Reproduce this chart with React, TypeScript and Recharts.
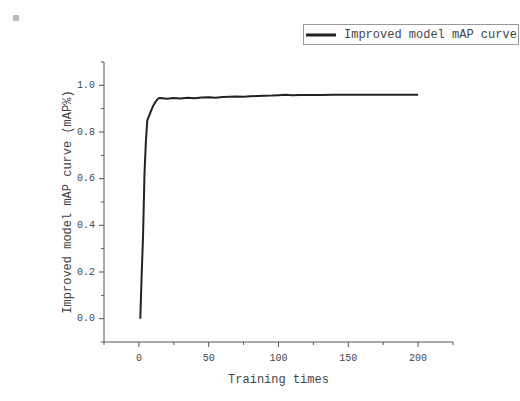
import { LineChart, Line, XAxis, YAxis, Label } from "recharts";

const trainingTimes = [
  1, 2, 3, 4, 5, 6, 7, 8, 9, 10, 11, 12, 13, 14, 15, 17, 20, 25, 30, 35, 40,
  45, 50, 55, 60, 65, 70, 75, 80, 85, 90, 95, 100, 105, 110, 115, 120, 130,
  140, 150, 160, 170, 180, 190, 200,
];
const mapValues = [
  0.0, 0.19, 0.36, 0.62, 0.76, 0.85, 0.865, 0.88, 0.895, 0.91, 0.92, 0.93,
  0.938, 0.944, 0.946, 0.945, 0.943, 0.946, 0.944, 0.947, 0.945, 0.948, 0.949,
  0.947, 0.95, 0.951, 0.952, 0.951, 0.953, 0.954, 0.955, 0.956, 0.958, 0.96,
  0.958, 0.959, 0.959, 0.959, 0.96, 0.96, 0.96, 0.96, 0.96, 0.96, 0.96,
];

const xTicks = [-25, 0, 25, 50, 75, 100, 125, 150, 175, 200, 225];
const xMajor = [0, 50, 100, 150, 200];
const yTicks = [-0.1, 0, 0.1, 0.2, 0.3, 0.4, 0.5, 0.6, 0.7, 0.8, 0.9, 1.0, 1.1];
const yMajor = ["0.0", "0.2", "0.4", "0.6", "0.8", "1.0"];

const SERIES = "Improved model mAP curve";
const FONT = "Cousine, 'Liberation Mono', 'Courier New', monospace";
const AXIS = "#555";
const TEXT = "#444";

const data = trainingTimes.map((t, i) => ({ t, map: mapValues[i] }));

function XTick({ x, y, payload }: any) {
  const major = xMajor.includes(payload.value);
  return (
    <g>
      <line x1={x} x2={x} y1={y} y2={y + (major ? 5 : 3)} stroke={AXIS} />
      {major && (
        <text x={x} y={y + 16} textAnchor="middle" dominantBaseline="central"
          fontFamily={FONT} fontSize={10} fill={TEXT}>
          {payload.value}
        </text>
      )}
    </g>
  );
}

function YTick({ x, y, payload }: any) {
  const label = payload.value.toFixed(1);
  const major = yMajor.includes(label);
  return (
    <g>
      <line x1={x} x2={x - (major ? 5 : 3)} y1={y} y2={y} stroke={AXIS} />
      {major && (
        <text x={x - 9} y={y} textAnchor="end" dominantBaseline="central"
          fontFamily={FONT} fontSize={10} fill={TEXT}>
          {label}
        </text>
      )}
    </g>
  );
}

function LegendBox() {
  return (
    <div style={{
      position: "absolute", left: 303, top: 24,
      border: "1px solid #999", height: 21, width: 216, boxSizing: "border-box",
      display: "flex", alignItems: "center", background: "#fff",
    }}>
      <svg width={38} height={10}>
        <line x1={2} x2={32} y1={5} y2={5} stroke="#222" strokeWidth={3} />
      </svg>
      <span style={{ fontFamily: FONT, fontSize: 12, color: TEXT, marginLeft: 2, whiteSpace: "nowrap" }}>
        {SERIES}
      </span>
    </div>
  );
}

export default function App() {
  return (
    <div style={{ position: "absolute", left: 0, top: 0, width: 520, height: 401, background: "#fff" }}>
      <div style={{ position: "absolute", left: 13, top: 15, width: 6, height: 6, background: "#bbb" }} />
      <LineChart width={520} height={401} data={data}
        margin={{ top: 62, right: 67, bottom: 0, left: 0 }}>
        <XAxis dataKey="t" type="number" domain={[-25, 225]} ticks={xTicks}
          height={59} stroke={AXIS} tickSize={0} tickMargin={0} tick={<XTick />}
          allowDataOverflow interval={0}>
          <Label position="insideBottom" offset={18} value="Training times"
            style={{ fontFamily: FONT, fontSize: 12, fill: TEXT }} />
        </XAxis>
        <YAxis type="number" domain={[-0.1, 1.1]} ticks={yTicks} width={104}
          stroke={AXIS} tickSize={0} tickMargin={0} tick={<YTick />}
          allowDataOverflow interval={0}>
          <Label content={(props: any) => {
            const vb = props.viewBox;
            const cx = 68;
            const cy = vb.y + vb.height / 2;
            return (
              <text x={cx} y={cy} transform={`rotate(-90 ${cx} ${cy})`}
                textAnchor="middle" dominantBaseline="central"
                fontFamily={FONT} fontSize={12} fill={TEXT}>
                Improved model mAP curve (mAP%)
              </text>
            );
          }} />
        </YAxis>
        <Line dataKey="map" name={SERIES} stroke="#222" strokeWidth={2}
          dot={false} type="linear" isAnimationActive={false} />
      </LineChart>
      <LegendBox />
    </div>
  );
}
